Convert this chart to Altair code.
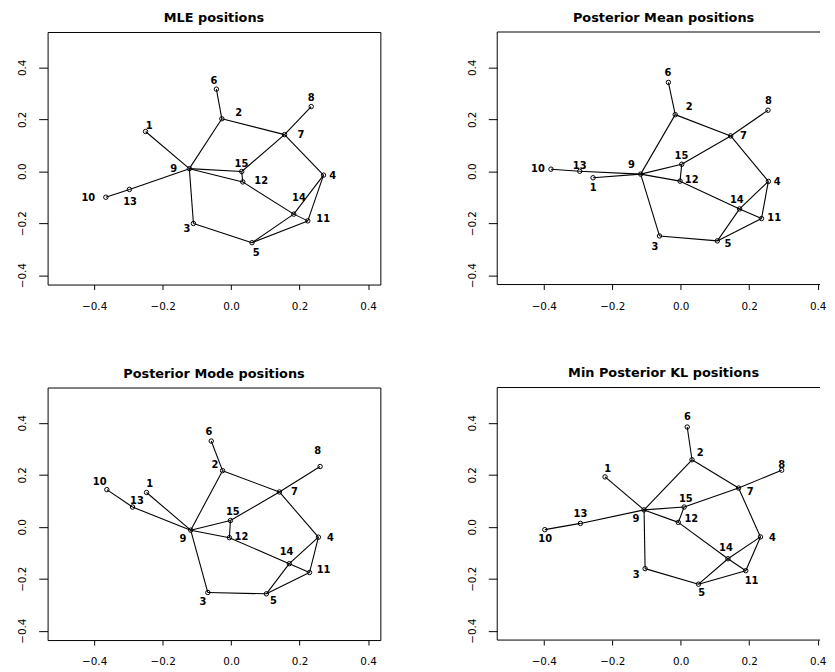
import altair as alt
import pandas as pd

ids = list(range(1, 16))
edge_from = [1, 2, 2, 2, 3, 3, 4, 4, 4, 5, 5, 7, 7, 9, 10, 9, 9, 12, 12, 11]
edge_to = [9, 6, 7, 9, 9, 5, 7, 14, 11, 14, 11, 8, 15, 13, 13, 15, 12, 15, 14, 14]
ticks = [-0.4, -0.2, 0.0, 0.2, 0.4]

titles = ["MLE positions", "Posterior Mean positions",
          "Posterior Mode positions", "Min Posterior KL positions"]

# node coordinates (ids 1..15)
mle_x = [-0.250, -0.027, -0.110, 0.270, 0.061, -0.043, 0.156, 0.234, -0.122, -0.366, 0.224, 0.034, -0.297, 0.183, 0.031]
mle_y = [0.153, 0.202, -0.201, -0.015, -0.275, 0.316, 0.141, 0.249, 0.010, -0.100, -0.191, -0.041, -0.070, -0.165, -0.001]
mle_lx = [-0.239, 0.022, -0.129, 0.297, 0.073, -0.050, 0.204, 0.234, -0.168, -0.417, 0.269, 0.088, -0.295, 0.198, 0.030]
mle_ly = [0.173, 0.223, -0.224, -0.018, -0.314, 0.346, 0.139, 0.282, 0.010, -0.102, -0.182, -0.037, -0.120, -0.102, 0.026]

mean_x = [-0.256, -0.016, -0.062, 0.256, 0.107, -0.036, 0.146, 0.255, -0.117, -0.379, 0.236, -0.002, -0.295, 0.172, 0.003]
mean_y = [-0.025, 0.218, -0.249, -0.039, -0.268, 0.342, 0.136, 0.235, -0.011, 0.008, -0.182, -0.038, 0.000, -0.145, 0.027]
mean_lx = [-0.256, 0.025, -0.075, 0.282, 0.138, -0.037, 0.183, 0.256, -0.144, -0.417, 0.273, 0.032, -0.295, 0.164, 0.002]
mean_ly = [-0.064, 0.248, -0.291, -0.042, -0.281, 0.377, 0.135, 0.270, 0.024, 0.009, -0.181, -0.033, 0.022, -0.111, 0.057]

mode_x = [-0.247, -0.025, -0.068, 0.255, 0.103, -0.058, 0.141, 0.260, -0.118, -0.363, 0.229, -0.005, -0.288, 0.170, -0.002]
mode_y = [0.132, 0.216, -0.253, -0.040, -0.258, 0.330, 0.134, 0.232, -0.013, 0.143, -0.176, -0.042, 0.076, -0.142, 0.024]
mode_lx = [-0.238, -0.047, -0.082, 0.290, 0.124, -0.065, 0.185, 0.253, -0.141, -0.384, 0.270, 0.030, -0.275, 0.162, 0.005]
mode_ly = [0.164, 0.238, -0.289, -0.043, -0.287, 0.365, 0.134, 0.290, -0.047, 0.173, -0.168, -0.039, 0.101, -0.098, 0.056]

kl_x = [-0.221, 0.033, -0.104, 0.233, 0.052, 0.019, 0.169, 0.295, -0.107, -0.397, 0.190, -0.007, -0.293, 0.138, 0.010]
kl_y = [0.192, 0.258, -0.161, -0.039, -0.221, 0.384, 0.149, 0.218, 0.065, -0.011, -0.169, 0.017, 0.013, -0.123, 0.076]
kl_lx = [-0.213, 0.057, -0.130, 0.268, 0.061, 0.020, 0.203, 0.295, -0.131, -0.396, 0.207, 0.031, -0.293, 0.132, 0.015]
kl_ly = [0.223, 0.282, -0.184, -0.042, -0.256, 0.424, 0.135, 0.238, 0.031, -0.047, -0.207, 0.031, 0.051, -0.081, 0.107]

H = 255
AXFONT = "DejaVu Sans"


def panel(title, nx, ny, lx, ly, W, xmax, open_right, title_dx):
    nodes = pd.DataFrame({"id": ids, "x": nx, "y": ny, "lx": lx, "ly": ly})
    pos = {i: (a, b) for i, a, b in zip(ids, nx, ny)}
    edges = pd.DataFrame({
        "x": [pos[a][0] for a in edge_from],
        "y": [pos[a][1] for a in edge_from],
        "x2": [pos[b][0] for b in edge_to],
        "y2": [pos[b][1] for b in edge_to],
    })
    xs = alt.Scale(domain=[-0.536, xmax], nice=False, zero=False)
    ys = alt.Scale(domain=[-0.436, 0.536], nice=False, zero=False)
    xax = alt.Axis(values=ticks, format=".1f", title=None, grid=False, domain=False,
                   tickSize=5, tickColor="black", labelPadding=12, labelFont=AXFONT,
                   labelFontSize=10.5, labelColor="black", labelFlush=False, labelOverlap=False)
    yax = alt.Axis(values=ticks, format=".1f", title=None, grid=False, domain=False,
                   tickSize=9, tickColor="black", labelPadding=13, labelFont=AXFONT,
                   labelFontSize=10.5, labelColor="black", labelAngle=270,
                   labelAlign="center", labelBaseline="alphabetic", labelFlush=False,
                   labelOverlap=False)
    e = alt.Chart(edges).mark_rule(color="black", strokeWidth=1.1).encode(
        x=alt.X("x:Q", scale=xs, axis=xax), y=alt.Y("y:Q", scale=ys, axis=yax),
        x2="x2:Q", y2="y2:Q")
    p = alt.Chart(nodes).mark_point(shape="circle", filled=False, color="black",
                                    size=20, strokeWidth=1, opacity=1).encode(
        x=alt.X("x:Q", scale=xs, axis=xax), y=alt.Y("y:Q", scale=ys, axis=yax))
    t = alt.Chart(nodes).mark_text(font=AXFONT, fontWeight="bold", fontSize=10,
                                   color="black", align="center", baseline="middle").encode(
        x=alt.X("lx:Q", scale=xs, axis=xax), y=alt.Y("ly:Q", scale=ys, axis=yax),
        text="id:N")
    layers = [e, p, t]
    if open_right:
        bd = pd.DataFrame({"k": [0]})
        layers += [
            alt.Chart(bd).mark_rule(color="black", strokeWidth=1).encode(
                x=alt.value(0), y=alt.value(0), y2=alt.value(H)),
            alt.Chart(bd).mark_rule(color="black", strokeWidth=1).encode(
                x=alt.value(0), x2=alt.value(W), y=alt.value(0)),
            alt.Chart(bd).mark_rule(color="black", strokeWidth=1).encode(
                x=alt.value(0), x2=alt.value(W), y=alt.value(H)),
        ]
        view = alt.ViewBackground(stroke="transparent")
    else:
        view = alt.ViewBackground(stroke="black", strokeWidth=1)
    return alt.layer(*layers).properties(
        width=W, height=H, view=view,
        title=alt.TitleParams(title, font=AXFONT, fontWeight="bold", fontSize=13,
                              color="black", anchor="middle", offset=7, dx=title_dx))


WL = 336
WR = 326
xmax_l = 0.436
xmax_r = -0.536 + WR * (0.972 / WL)

chart = alt.concat(
    panel(titles[0], mle_x, mle_y, mle_lx, mle_ly, WL, xmax_l, False, 0),
    panel(titles[1], mean_x, mean_y, mean_lx, mean_ly, WR, xmax_r, True, 5),
    panel(titles[2], mode_x, mode_y, mode_lx, mode_ly, WL, xmax_l, False, 0),
    panel(titles[3], kl_x, kl_y, kl_lx, kl_ly, WR, xmax_r, True, 5),
    columns=2, spacing={"row": 55, "column": 86},
).properties(
    padding={"left": 9, "top": 0, "right": 0, "bottom": 0}, background="white"
).configure_view(fill="white")

chart.save("out.html", embed_options={"renderer": "svg", "actions": False})
